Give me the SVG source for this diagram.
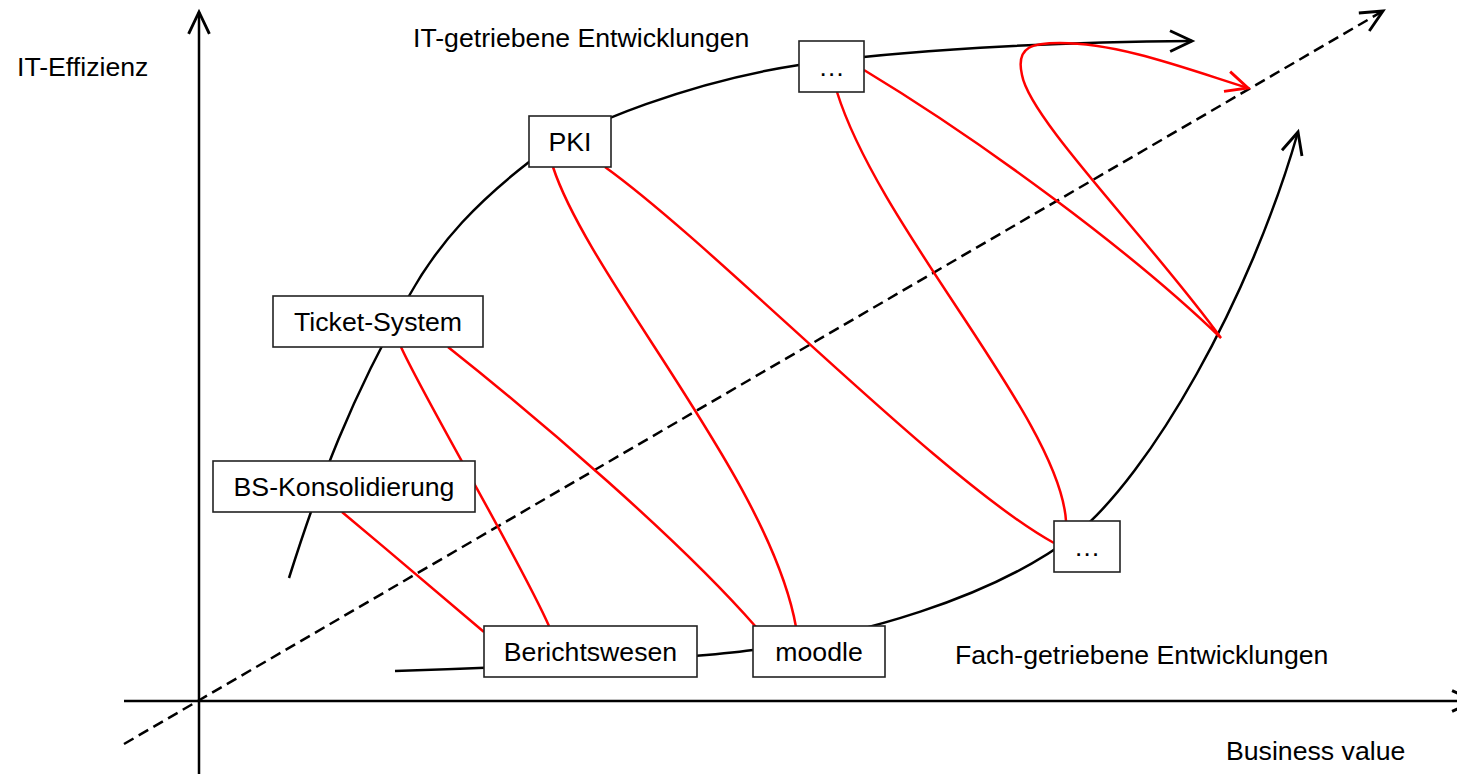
<svg xmlns="http://www.w3.org/2000/svg" width="1457" height="774" viewBox="0 0 1457 774">
  <style>
    text { font-family: "Liberation Sans", Arial, sans-serif; font-size: 26.67px; fill: #000; }
    .lbl { text-anchor: middle; }
    .box { fill: #fff; stroke: #222; stroke-width: 1.6; }
    .axis { fill: none; stroke: #000; stroke-width: 2.5; }
    .path { fill: none; stroke: #000; stroke-width: 2.5; }
    .link { fill: none; stroke: #ff0000; stroke-width: 2.5; }
    .diag { fill: none; stroke: #000; stroke-width: 2.5; stroke-dasharray: 11 6; }
  </style>
  <defs>
    <marker id="arrow" markerUnits="userSpaceOnUse" markerWidth="30" markerHeight="30" viewBox="-22 -12 26 24" refX="0" refY="0" orient="auto">
      <path d="M-19,-9 L0,0 L-19,9" fill="none" stroke="#000" stroke-width="2.5"/>
    </marker>
    <marker id="arrow-red" markerUnits="userSpaceOnUse" markerWidth="30" markerHeight="30" viewBox="-22 -12 26 24" refX="0" refY="0" orient="auto">
      <path d="M-19,-9 L0,0 L-19,9" fill="none" stroke="#ff0000" stroke-width="2.5"/>
    </marker>
  </defs>

  <!-- axes and diagonal -->
  <g id="axes">
    <line class="axis" x1="199" y1="774" x2="199" y2="12" marker-end="url(#arrow)"/>
    <line class="axis" x1="124" y1="701" x2="1474" y2="701" marker-end="url(#arrow)"/>
    <line class="diag" x1="124" y1="744" x2="1383" y2="11" marker-end="url(#arrow)"/>
  </g>

  <!-- development paths and links between projects -->
  <g id="connectors">
    <path class="path" d="M289,578 C320,480 350,400 409,296 C440,240 480,200 529,162 C580,122 700,80 799,65 C900,50 1050,42 1192,41" marker-end="url(#arrow)"/>
    <path class="path" d="M395,671 C500,668 680,660 753,650 C855,636 990,600 1075,535 C1150,475 1250,300 1298,132" marker-end="url(#arrow)"/>

    <path class="link" d="M342,512 C390,552 440,595 484,632"/>
    <path class="link" d="M401,347 C425,400 520,560 549,626"/>
    <path class="link" d="M448,347 C540,420 680,540 756,627"/>
    <path class="link" d="M553,167 C590,280 770,480 796,627"/>
    <path class="link" d="M605,167 C720,250 940,480 1054,543"/>
    <path class="link" d="M837,92 C880,230 1060,420 1066,521"/>
    <path class="link" d="M864,70 C980,140 1130,250 1221,338 C1150,240 1030,120 1022,75 C1015,45 1035,43 1060,43 C1120,43 1190,70 1248,88" marker-end="url(#arrow-red)"/>
  </g>

  <!-- projects -->
  <g id="node-it-more">
    <rect class="box" x="799" y="41" width="65" height="51"/>
    <text class="lbl" x="831.5" y="76">…</text>
  </g>
  <g id="node-pki">
    <rect class="box" x="529" y="116" width="82" height="51"/>
    <text class="lbl" x="570" y="151">PKI</text>
  </g>
  <g id="node-ticket">
    <rect class="box" x="273" y="296" width="210" height="51"/>
    <text class="lbl" x="378" y="331">Ticket-System</text>
  </g>
  <g id="node-bs">
    <rect class="box" x="213" y="461" width="262" height="51"/>
    <text class="lbl" x="344" y="496">BS-Konsolidierung</text>
  </g>
  <g id="node-bericht">
    <rect class="box" x="484" y="626" width="213" height="51"/>
    <text class="lbl" x="590.5" y="661">Berichtswesen</text>
  </g>
  <g id="node-moodle">
    <rect class="box" x="753" y="626" width="132" height="51"/>
    <text class="lbl" x="819" y="661">moodle</text>
  </g>
  <g id="node-fach-more">
    <rect class="box" x="1054" y="521" width="66" height="51"/>
    <text class="lbl" x="1087" y="556">…</text>
  </g>

  <!-- axis and path labels -->
  <g id="labels">
    <text x="17" y="76">IT-Effizienz</text>
    <text x="413" y="47">IT-getriebene Entwicklungen</text>
    <text x="955" y="664">Fach-getriebene Entwicklungen</text>
    <text x="1226" y="760">Business value</text>
  </g>
</svg>
